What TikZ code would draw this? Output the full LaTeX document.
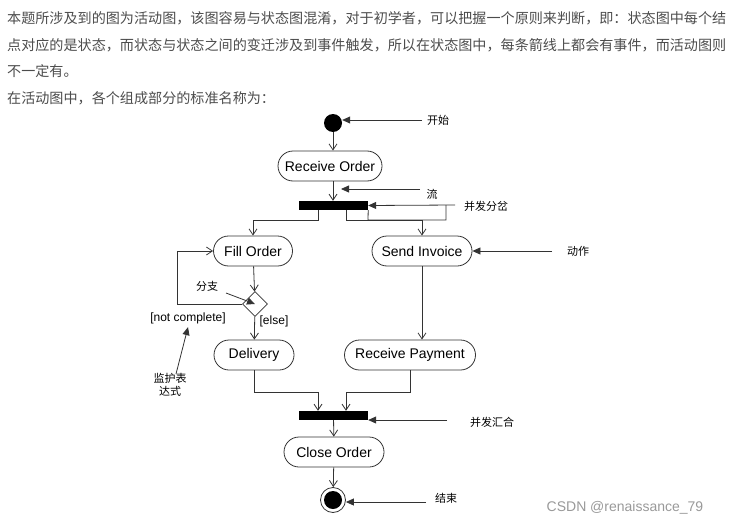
\documentclass[tikz,border=0pt]{standalone}
\usepackage{fontspec}
\setmainfont{Liberation Sans}
\newfontfamily\cjk{Noto Sans CJK SC}
\usetikzlibrary{shapes.geometric,arrows.meta}
\begin{document}
\begin{tikzpicture}[x=1pt,y=-1pt,
  ln/.style={draw=black!80,line width=0.8pt},
  flow/.style={ln,-{Straight Barb[length=6pt,width=8pt]}},
  ann/.style={ln,-{Triangle[length=8pt,width=7pt]}},
  act/.style={ln,rectangle,rounded corners=15pt,minimum height=30pt,inner xsep=4pt,font=\fontsize{14}{14}\selectfont},
  bar/.style={fill=black,minimum width=69pt,minimum height=9pt,inner sep=0pt},
  lab/.style={font=\cjk\fontsize{11}{13}\selectfont},
  para/.style={anchor=west,text=black!70,font=\cjk\fontsize{14.1}{15}\selectfont,inner sep=0pt}]
\useasboundingbox (0,0) rectangle (736,527);
\node[para] (p1) at (7,18) {本题所涉及到的图为活动图，该图容易与状态图混淆，对于初学者，可以把握一个原则来判断，即：状态图中每个结};
\node[para] (p2) at (7,45) {点对应的是状态，而状态与状态之间的变迁涉及到事件触发，所以在状态图中，每条箭线上都会有事件，而活动图则};
\node[para] (p3) at (7,71) {不一定有。};
\node[para] (p4) at (7,98) {在活动图中，各个组成部分的标准名称为：};
\node[circle,fill=black,minimum size=18pt,inner sep=0pt] (start) at (333,123) {};
\node[act,minimum width=104pt] (ro) at (330,166) {Receive Order};
\node[bar] (fork) at (333.5,205.5) {};
\node[act,minimum width=79pt] (fo) at (253,251) {Fill Order};
\node[act,minimum width=100pt] (si) at (422,251) {Send Invoice};
\node[diamond,ln,fill=white,minimum size=25pt,inner sep=0pt] (dec) at (255,304) {};
\node[act,minimum width=80pt] (de) at (254,355) {Delivery};
\node[act,minimum width=131pt] (rp) at (410,355) {Receive Payment};
\node[bar] (join) at (333.5,415.5) {};
\node[act,minimum width=100pt] (co) at (334,452) {Close Order};
\node[circle,ln,minimum size=25pt,inner sep=0pt] (end) at (333,500) {};
\node[circle,fill=black,minimum size=18pt,inner sep=0pt] (endin) at (end) {};
% flows
\draw[flow] (start) -- (start |- ro.north);
\draw[flow] (ro.south -| start) -- (start |- fork.north);
\coordinate (f1) at (318,220); \coordinate (f2) at (346,220);
\draw[flow] (fork.south -| f1) |- (f1) -| (fo.north);
\draw[flow] (fork.south -| f2) |- (f2) -| (si.north);
\draw[flow] (fo) -- (dec);
\draw[flow] (dec.west) -| (177,251) -- (fo.west);
\draw[flow] (dec) -- (de);
\draw[flow] (si.south) -- (si.south |- rp.north);
\coordinate (j1) at (318,392); \coordinate (j2) at (346,392);
\draw[flow] (de.south) |- (j1) -- (j1 |- join.north);
\draw[flow] (rp.south) |- (j2) -- (j2 |- join.north);
\draw[flow] (join) -- (co);
\draw[flow] (co) -- (end);
% annotations
\node[lab] (l1) at (438,120) {开始};
\coordinate (a1) at (422,120);
\draw[ann] (a1) -- (start.east |- a1);
\node[lab] (l2) at (432,194) {流};
\coordinate (a2) at (420,189); \coordinate (a2e) at (341,189);
\draw[ann] (a2) -- (a2e);
\node[lab] (l3) at (486,206) {并发分岔};
\coordinate (a3) at (455,205);
\draw[ann] (a3) -- (fork.east);
\draw[ln] (446,205) |- (368,220) -- (fork.south east);
\node[lab] (l4) at (578,251) {动作};
\coordinate (a4) at (552,251);
\draw[ann] (a4) -- (si.east);
\node[lab] (l5) at (207,286) {分支};
\coordinate (a5) at (226,293);
\draw[ann] (a5) -- (dec.center);
\node[font=\fontsize{12}{12}\selectfont] (nc) at (188,318) {[not complete]};
\node[font=\fontsize{12}{12}\selectfont] (el) at (274,321) {[else]};
\node[lab,align=center,inner sep=0pt] (l6) at (170,385) {监护表\\达式};
\coordinate (a6) at (176,374);
\draw[ann] (a6) -- (nc.south);
\node[lab] (l7) at (492,422) {并发汇合};
\coordinate (a7) at (447,420);
\draw[ann] (a7) -- (join.east |- a7);
\node[lab] (l8) at (446,498) {结束};
\coordinate (a8) at (426,502);
\draw[ann] (a8) -- (end.east |- a8);
\node[text=black!40,font=\fontsize{14}{14}\selectfont] (wm) at (625,508) {CSDN @renaissance\_79};
\end{tikzpicture}
\end{document}
